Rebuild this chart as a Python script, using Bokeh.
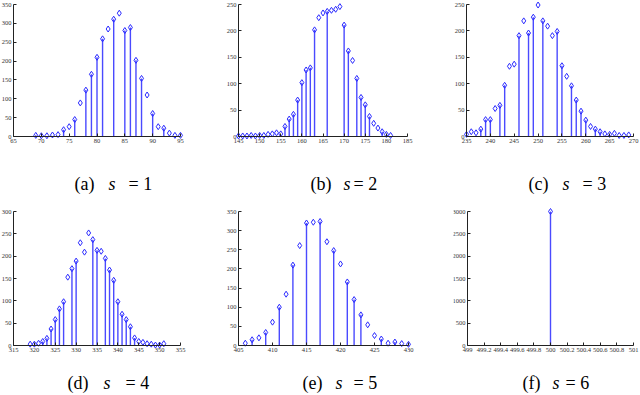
from bokeh.plotting import figure
from bokeh.layouts import column, row
from bokeh.models import Range1d, FixedTicker, Label
from bokeh.embed import file_html
from bokeh.resources import INLINE

# ---------------- data ----------------
# (a) s = 1
a_stem_x = [69, 74, 76, 78, 79, 80, 81, 83, 85, 86, 87, 88, 90, 92]
a_stem_y = [3, 18, 45, 123, 165, 210, 259, 311, 281, 289, 202, 154, 61, 22]
a_dot_x = [70, 71, 72, 73, 75, 77, 82, 84, 89, 91, 93, 94, 95]
a_dot_y = [2, 2, 4, 5, 26, 89, 285, 327, 110, 26, 9, 3, 3]
a_xticks = [65, 70, 75, 80, 85, 90, 95]
a_yticks = [0, 50, 100, 150, 200, 250, 300, 350]

# (b) s = 2
b_stem_x = [148, 156, 157, 158, 159, 160, 161, 162, 163, 166, 170, 171, 173, 174, 175, 176, 179]
b_stem_y = [2, 19, 33, 42, 69, 102, 126, 130, 202, 237, 211, 162, 110, 74, 60, 38, 9]
b_dot_x = [145, 146, 147, 149, 150, 151, 152, 153, 154, 155, 164, 165, 167, 168, 169, 172, 177, 178, 180, 181]
b_dot_y = [1, 1, 1, 1, 2, 2, 4, 5, 7, 5, 225, 234, 239, 241, 246, 144, 25, 16, 4, 2]
b_xticks = [145, 150, 155, 160, 165, 170, 175, 180, 185]
b_yticks = [0, 50, 100, 150, 200, 250]

# (c) s = 3
c_stem_x = [238, 239, 240, 242, 243, 246, 248, 249, 251, 254, 255, 257, 258, 259, 260, 262, 263]
c_stem_y = [14, 32, 32, 59, 97, 191, 196, 226, 219, 199, 134, 96, 69, 48, 31, 14, 9]
c_dot_x = [235, 236, 237, 241, 244, 245, 247, 250, 252, 253, 256, 261, 264, 265, 266, 267, 268, 269]
c_dot_y = [4, 9, 7, 53, 133, 137, 219, 249, 209, 191, 114, 19, 5, 4, 6, 2, 2, 3]
c_xticks = [235, 240, 245, 250, 255, 260, 265, 270]
c_yticks = [0, 50, 100, 150, 200, 250]

# (d) s = 4
d_stem_x = [322, 323, 324, 325, 326, 327, 329, 330, 334, 335, 337, 338, 339, 340, 341, 342, 343, 344]
d_stem_y = [9, 16, 37, 58, 82, 98, 172, 189, 237, 213, 195, 169, 146, 98, 70, 58, 42, 17]
d_dot_x = [319, 320, 321, 328, 331, 332, 333, 336, 345, 346, 347, 348, 349, 350, 351]
d_dot_y = [3, 3, 5, 153, 230, 209, 252, 211, 9, 7, 4, 3, 1, 1, 4]
d_xticks = [315, 320, 325, 330, 335, 340, 345, 350, 355]
d_yticks = [0, 50, 100, 150, 200, 250, 300]

# (e) s = 5
e_stem_x = [407, 409, 411, 413, 415, 417, 419, 421, 422, 423, 426, 428, 430]
e_stem_y = [15, 34, 100, 210, 320, 324, 248, 166, 120, 80, 17, 9, 3]
e_dot_x = [406, 408, 410, 412, 414, 416, 418, 420, 424, 425, 427, 429]
e_dot_y = [6, 20, 61, 134, 261, 322, 271, 213, 54, 26, 6, 5]
e_xticks = [405, 410, 415, 420, 425, 430]
e_yticks = [0, 50, 100, 150, 200, 250, 300, 350]

# (f) s = 6
f_stem_x = [500]
f_stem_y = [3000]
f_dot_x = []
f_dot_y = []
f_xticks = [499, 499.2, 499.4, 499.6, 499.8, 500, 500.2, 500.4, 500.6, 500.8, 501]
f_xtick_labels = ["499", "499.2", "499.4", "499.6", "499.8", "500", "500.2", "500.4", "500.6", "500.8", "501"]
f_yticks = [0, 500, 1000, 1500, 2000, 2500, 3000]

captions = [("(a)", "s", "= 1"), ("(b)", "s", "= 2"), ("(c)", "s", "= 3"),
            ("(d)", "s", "= 4"), ("(e)", "s", "= 5"), ("(f)", "s", "= 6")]

STEM = "#4a4aff"
MARK = "#2a2aff"
SERIF = "Liberation Serif"


def panel(stem_x, stem_y, dot_x, dot_y, xticks, yticks, xlabels,
          W, H, L, R, T, Z, cap, cap_x, cap_base):
    """W,H canvas size; L,R pixel x of axis ends; T,Z pixel y of top tick and zero line."""
    x0, x1 = xticks[0], xticks[-1]
    ymax = yticks[-1]
    dpx = (x1 - x0) / (R - L)
    dpy = ymax / (Z - T)
    p = figure(width=W, height=H, output_backend="svg", toolbar_location=None,
               x_range=Range1d(x0 - L * dpx, x1 + (W - R) * dpx),
               y_range=Range1d(-(H - Z) * dpy, ymax + T * dpy))
    p.min_border = 0
    p.min_border_left = 0
    p.min_border_right = 0
    p.min_border_top = 0
    p.min_border_bottom = 0
    p.outline_line_color = None
    p.xgrid.visible = False
    p.ygrid.visible = False
    p.background_fill_color = "white"
    p.border_fill_color = "white"

    p.segment(x0=stem_x, y0=[0] * len(stem_x), x1=stem_x, y1=stem_y,
              line_color=STEM, line_width=1.4)
    p.scatter(stem_x, stem_y, marker="diamond", size=6, fill_color=None,
              line_color=MARK, line_width=1)
    if dot_x:
        p.scatter(dot_x, dot_y, marker="diamond", size=6, fill_color=None,
                  line_color=MARK, line_width=1)

    for ax, ticks in ((p.xaxis[0], xticks), (p.yaxis[0], yticks)):
        ax.ticker = FixedTicker(ticks=ticks)
        ax.minor_tick_line_color = None
        ax.major_tick_in = 3
        ax.major_tick_out = 0
        ax.major_tick_line_color = "#222222"
        ax.axis_line_color = "#222222"
        ax.major_label_text_font = SERIF
        ax.major_label_text_font_size = "6.5px"
        ax.major_label_text_color = "#333333"
        ax.major_label_standoff = 2
    p.xaxis[0].fixed_location = 0
    p.xaxis[0].bounds = (x0, x1)
    p.yaxis[0].fixed_location = x0
    p.yaxis[0].bounds = (0, ymax)
    if xlabels is not None:
        p.xaxis[0].major_label_overrides = {t: s for t, s in zip(xticks, xlabels)}

    cap_y = -(cap_base - Z) * dpy
    parts = [(cap[0], "normal"), (cap[1], "italic"), (cap[2], "normal")]
    for (txt, style), xx in zip(parts, cap_x):
        p.add_layout(Label(x=xx, y=cap_y, x_units="screen", y_units="data", text=txt,
                           text_font=SERIF, text_font_size="18px", text_font_style=style,
                           text_color="black", text_baseline="alphabetic", text_align="left"))
    return p


# row 1: canvas height 200 ; row 2: canvas height 194 (starts at page y 200)
pa = panel(a_stem_x, a_stem_y, a_dot_x, a_dot_y, a_xticks, a_yticks, None,
           225, 200, 13, 180, 4, 136, captions[0], [74, 108, 128], 183)
pb = panel(b_stem_x, b_stem_y, b_dot_x, b_dot_y, b_xticks, b_yticks, None,
           228, 200, 13, 182, 4, 136, captions[1], [85, 118, 128], 183)
pc = panel(c_stem_x, c_stem_y, c_dot_x, c_dot_y, c_xticks, c_yticks, None,
           186, 200, 13, 180, 4, 136, captions[2], [75, 109, 129], 183)

pd = panel(d_stem_x, d_stem_y, d_dot_x, d_dot_y, d_xticks, d_yticks, None,
           225, 194, 13, 180, 11, 145, captions[3], [67, 103, 125], 182)
pe = panel(e_stem_x, e_stem_y, e_dot_x, e_dot_y, e_xticks, e_yticks, None,
           228, 194, 13, 183, 11, 145, captions[4], [77, 110, 128], 182)
pf = panel(f_stem_x, f_stem_y, f_dot_x, f_dot_y, f_xticks, f_yticks, f_xtick_labels,
           186, 194, 14, 180, 11, 145, captions[5], [69, 99, 112], 182)

layout = column(row(pa, pb, pc), row(pd, pe, pf))
open("out.html", "w").write(file_html(layout, INLINE))
